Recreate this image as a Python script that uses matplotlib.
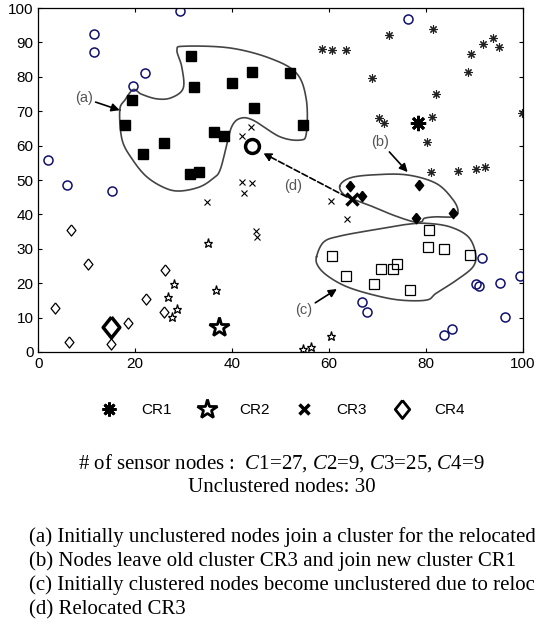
import matplotlib
matplotlib.use("Agg")
import matplotlib.pyplot as plt
import numpy as np
from matplotlib.lines import Line2D

plt.rcParams["font.family"] = ["Liberation Sans", "DejaVu Sans"]
plt.rcParams["mathtext.fontset"] = "custom"
plt.rcParams["mathtext.rm"] = "Liberation Serif"
plt.rcParams["mathtext.it"] = "Liberation Serif:italic"

# CR1 members (asterisks) and CR1 head
cr1_x = [58.5, 60.6, 63.4, 72.4, 81.4, 68.9, 89.2, 91.8, 93.8, 95.0, 88.7,
         82.0, 99.7, 70.2, 71.3, 81.2, 80.1, 81.1, 86.6, 90.2, 92.2]
cr1_y = [88.2, 87.9, 87.7, 92.2, 93.8, 79.6, 86.6, 89.5, 91.2, 88.8, 81.5,
         75.0, 69.4, 67.9, 66.7, 68.4, 61.0, 52.3, 52.5, 53.1, 53.7]
cr1_head = (78.4, 66.7)

# nodes that moved from CR3 to CR1 (b)
moved_x = [64.3, 66.7, 78.5, 77.9, 85.6]
moved_y = [48.3, 45.3, 48.5, 39.0, 40.5]

# CR2 members and head
cr2_x = [27.9, 26.8, 28.7, 27.5, 35.1, 36.6, 54.6, 56.2, 60.4]
cr2_y = [19.7, 15.9, 12.4, 10.2, 31.6, 18.0, 0.9, 1.5, 4.7]
cr2_head = (37.3, 7.4)

# CR3 members, old and relocated head
cr3_x = [43.8, 42.1, 42.1, 44.1, 42.4, 34.7, 44.9, 45.2, 60.3, 63.6]
cr3_y = [65.4, 62.8, 49.5, 49.0, 46.1, 43.6, 35.3, 33.5, 44.0, 38.6]
cr3_old = (44.1, 60.0)
cr3_new = (64.7, 44.4)

# nodes that joined the relocated cluster (a)
joined_x = [19.3, 17.9, 21.5, 26.0, 31.4, 32.2, 39.9, 44.1, 52.0, 44.5,
            54.6, 36.2, 38.4, 31.3, 33.1]
joined_y = [73.3, 66.0, 57.6, 60.8, 86.0, 77.1, 78.3, 81.4, 81.2, 71.0,
            65.9, 64.0, 62.9, 51.7, 52.4]

# nodes left unclustered after relocation (c)
dropped_x = [60.6, 63.5, 70.6, 73.1, 74.0, 69.2, 76.7, 80.7, 80.5, 83.7, 89.0]
dropped_y = [28.0, 22.2, 24.1, 24.1, 25.5, 19.7, 18.0, 35.4, 30.5, 30.0, 28.3]

# CR4 members and head
cr4_x = [6.7, 10.3, 26.2, 22.2, 3.4, 18.6, 25.9, 6.3, 14.9]
cr4_y = [35.6, 25.5, 23.8, 15.4, 12.9, 8.3, 11.7, 3.0, 2.2]
cr4_head = (14.9, 7.2)

# unclustered nodes
free_x = [11.5, 11.5, 22.1, 19.5, 1.9, 29.2, 76.2, 6.0, 15.2, 91.5, 90.4,
          90.9, 95.2, 99.3, 96.2, 66.7, 67.8, 85.4, 83.7]
free_y = [92.4, 87.2, 81.1, 77.4, 55.7, 99.2, 96.8, 48.5, 46.8, 27.2, 19.7,
          19.1, 20.0, 22.1, 10.2, 14.5, 11.5, 6.7, 4.8]

# hand-drawn outlines of the regions (a), (b), (c)
outline_a = [(16.8, 70.3), (17.9, 73.3), (19.6, 76.3), (21.2, 75.0), (24.4, 73.6),
             (27.4, 73.9), (29.9, 76.7), (29.6, 82.9), (28.6, 87.8), (30.2, 88.9),
             (39.5, 88.4), (47.8, 85.4), (53.3, 81.0), (55.3, 73.3), (55.3, 63.6),
             (54.0, 61.6), (49.8, 62.6), (44.3, 67.4), (41.6, 67.9), (39.9, 65.5),
             (38.8, 59.7), (37.5, 52.9), (36.2, 50.6), (33.3, 48.0), (29.2, 46.8),
             (26.1, 47.7), (22.4, 50.9), (19.5, 55.8), (17.3, 61.6)]
outline_b = [(62.2, 48.3), (64.3, 50.6), (69.1, 51.5), (76.0, 51.5), (82.1, 49.0),
             (85.6, 44.2), (86.6, 40.8), (85.6, 39.3), (82.1, 39.3), (79.7, 38.9),
             (79.1, 37.9), (77.3, 37.9), (73.2, 39.8), (69.1, 42.2), (66.3, 43.7),
             (63.2, 45.6)]
outline_c = [(57.4, 27.7), (58.9, 32.0), (62.2, 33.7), (69.1, 35.5), (76.0, 37.1),
             (80.1, 37.4), (84.9, 36.4), (88.7, 33.5), (90.2, 28.7), (89.7, 24.8),
             (86.3, 20.9), (82.1, 17.1), (80.1, 15.1), (74.6, 15.1), (69.1, 16.6),
             (63.6, 19.0), (59.7, 22.1), (57.7, 25.0)]


def smooth_closed(pts, n=20):
    # closed Catmull-Rom spline through the outline points
    p = np.asarray(pts, dtype=float)
    m = len(p)
    t = np.linspace(0, 1, n, endpoint=False)[:, None]
    segs = []
    for i in range(m):
        p0, p1, p2, p3 = p[(i - 1) % m], p[i], p[(i + 1) % m], p[(i + 2) % m]
        segs.append(0.5 * (2 * p1 + (-p0 + p2) * t
                           + (2 * p0 - 5 * p1 + 4 * p2 - p3) * t ** 2
                           + (-p0 + 3 * p1 - 3 * p2 + p3) * t ** 3))
    segs.append(p[:1])
    return np.vstack(segs)


diamond = [(0, 1), (0.8, 0), (0, -1), (-0.8, 0), (0, 1)]
navy = "#10106e"

fig = plt.figure(figsize=(5.35, 6.27), dpi=100)
ax = fig.add_axes([0.0716, 0.4386, 0.906, 0.5486])

for outline in (outline_a, outline_b, outline_c):
    s = smooth_closed(outline)
    ax.plot(s[:, 0], s[:, 1], color="#444444", lw=1.2, zorder=1)

ax.plot(free_x, free_y, "o", ms=6.5, mfc="none", mec=navy, mew=1.1)
ax.plot(joined_x, joined_y, "s", ms=6.5, color="black")
ax.plot(dropped_x, dropped_y, "s", ms=6.5, mfc="none", mec="black", mew=0.9)
ax.plot(cr1_x, cr1_y, marker=(8, 2, 0), ls="none", ms=6, mec="#222222", mew=0.8)
ax.plot(moved_x, moved_y, marker=diamond, ls="none", ms=7.5, color="black")
ax.plot(cr2_x, cr2_y, "*", ms=6.5, mfc="none", mec="black", mew=0.9)
ax.plot(cr3_x, cr3_y, "x", ms=4.5, color="black", mew=0.8)
ax.plot(cr4_x, cr4_y, marker=diamond, ls="none", ms=8, mfc="none", mec="black", mew=0.9)

# cluster heads
ax.plot(*cr1_head, marker=(8, 2, 0), ms=11, mec="black", mew=2)
ax.plot(*cr2_head, "*", ms=15, mfc="none", mec="black", mew=2)
ax.plot(*cr3_new, "x", ms=8, mec="black", mew=2.5)
ax.plot(*cr3_old, "o", ms=10, mfc="none", mec="black", mew=2.5)
ax.plot(*cr4_head, marker=diamond, ls="none", ms=15, mfc="none", mec="black", mew=2.5)

lab = dict(fontsize=10.5, color="#555555", ha="center", va="center")
arrow = dict(arrowstyle="-|>", color="black", lw=1.2, mutation_scale=12,
             shrinkA=0, shrinkB=0)
ax.annotate("(a)", xy=(16.8, 70.3), xytext=(9.4, 73.8), arrowprops=arrow, **lab)
ax.annotate("(b)", xy=(76.2, 52.3), xytext=(70.6, 61.0), arrowprops=arrow, **lab)
ax.annotate("(c)", xy=(61.6, 18.3), xytext=(54.8, 12.2), arrowprops=arrow, **lab)
ax.annotate("", xy=(46.4, 57.8), xytext=(63.6, 45.1),
            arrowprops=dict(arrow, linestyle="--"))
ax.text(52.5, 48.3, "(d)", **lab)

ax.set_xlim(0, 100)
ax.set_ylim(0, 100)
ax.set_xticks(np.arange(0, 101, 20))
ax.set_yticks(np.arange(0, 101, 10))
ax.tick_params(direction="in", top=True, right=True, length=3, labelsize=11)
for sp in ax.spines.values():
    sp.set_linewidth(0.9)

handles = [
    Line2D([], [], marker=(8, 2, 0), ls="none", ms=10, mec="black", mew=2),
    Line2D([], [], marker="*", ls="none", ms=15, mfc="none", mec="black", mew=2),
    Line2D([], [], marker="x", ls="none", ms=7, mec="black", mew=2.5),
    Line2D([], [], marker=diamond, ls="none", ms=13, mfc="none", mec="black", mew=2),
]
ax.legend(handles, ["CR1", "CR2", "CR3", "CR4"], ncol=4, frameon=False,
          loc="center", bbox_to_anchor=(0.505, -0.169), fontsize=11,
          handlelength=1.0, handletextpad=1.6, columnspacing=1.8)

serif = dict(family=["Liberation Serif", "DejaVu Serif"], fontsize=15)
fig.text(0.525, 0.2616,
         r"# of sensor nodes :  $\mathit{C1}$=27, $\mathit{C2}$=9, "
         r"$\mathit{C3}$=25, $\mathit{C4}$=9",
         ha="center", va="center", **serif)
fig.text(0.527, 0.2217, "Unclustered nodes: 30", ha="center", va="center", **serif)

# the long notes run past the right edge of the figure
notes = [
    "(a) Initially unclustered nodes join a cluster for the relocated CR3",
    "(b) Nodes leave old cluster CR3 and join new cluster CR1",
    "(c) Initially clustered nodes become unclustered due to relocation",
    "(d) Relocated CR3",
]
for i, note in enumerate(notes):
    fig.text(0.054, 0.1435 - i * 0.0385, note, ha="left", va="center", **serif)

fig.savefig("out.png", dpi=100)
